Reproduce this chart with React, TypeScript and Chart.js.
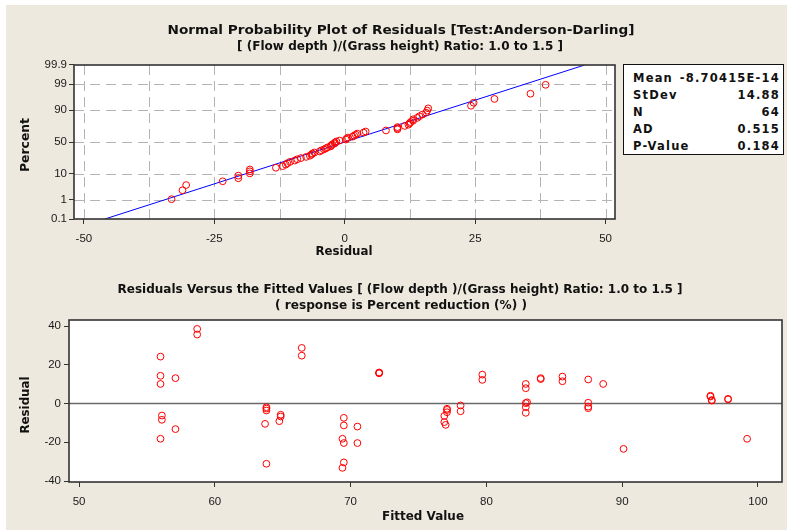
import React, { useEffect, useRef } from "react";
import { Chart, registerables } from "chart.js";

Chart.register(...registerables);

// ---------------- data ----------------
const FITTED = [
  56.0, 56.0, 56.0, 57.1, 58.7, 58.7, 56.1, 56.1, 56.0, 57.1,
  63.8, 63.8, 63.7, 63.8, 64.85, 64.85, 64.75, 66.4, 66.4,
  69.5, 69.5, 69.4, 69.5, 69.5, 69.4, 70.5, 70.5, 72.1, 72.1,
  79.7, 79.7, 77.1, 77.1, 77.1, 76.9, 76.9, 77.0, 78.1, 78.1,
  82.9, 82.9, 82.9, 82.9, 82.9, 84.0, 84.0, 85.6, 85.6, 87.5, 87.5, 87.5, 87.5, 88.6, 90.1,
  96.5, 96.5, 96.6, 97.8, 97.8, 99.2,
  63.8, 72.1, 83.0, 96.6,
];

const RESIDUALS = [
  24.2, 14.3, 10.1, 13.1, 38.5, 35.6, -6.2, -8.4, -18.2, -13.2,
  -1.9, -3.6, -10.5, -31.1, -5.8, -6.7, -9.1, 28.7, 24.7,
  -7.4, -11.3, -18.2, -20.4, -30.4, -33.2, -11.9, -20.4, 15.8, 16.0,
  14.9, 12.2, -2.7, -3.3, -4.5, -6.4, -9.6, -11.0, -1.0, -4.0,
  10.1, 7.9, 0.2, -1.9, -4.8, 13.1, 12.6, 13.9, 11.5, 12.4, 0.4, -1.6, -2.4, 10.1, -23.4,
  4.0, 3.6, 1.5, 2.4, 2.1, -18.2,
  -2.6, 15.6, 0.6, 1.8,
];

// percent (plotting position) of each ordered residual
const PLOT_PERCENT = [
  1.087, 2.640, 4.193, 5.745, 7.298, 8.851, 10.404, 11.957, 13.509, 15.062,
  16.615, 18.168, 19.720, 21.273, 22.826, 24.379, 25.932, 27.484, 29.037, 30.590,
  32.143, 33.696, 35.248, 36.801, 38.354, 39.907, 41.460, 43.012, 44.565, 46.118,
  47.671, 49.224, 50.776, 52.329, 53.882, 55.435, 56.988, 58.540, 60.093, 61.646,
  63.199, 64.752, 66.304, 67.857, 69.410, 70.963, 72.516, 74.068, 75.621, 77.174,
  78.727, 80.280, 81.832, 83.385, 84.938, 86.491, 88.043, 89.596, 91.149, 92.702,
  94.255, 95.807, 97.360, 98.913,
];

const FIT_LINE_RESIDUAL = [-45.98, 45.98];
const FIT_LINE_PERCENT = [0.1, 99.9];

const PERCENT_TICKS = [0.1, 1, 10, 50, 90, 99, 99.9];
const PERCENT_TICK_LABELS = ["0.1", "1", "10", "50", "90", "99", "99.9"];
const RESID_X_TICKS = [-50, -25, 0, 25, 50];
const RESID_X_GRID = [-50, -37.5, -25, -12.5, 0, 12.5, 25, 37.5, 50];
const FITTED_TICKS = [50, 60, 70, 80, 90, 100];
const RESID_Y_TICKS = [-40, -20, 0, 20, 40];

const STATS_LABELS = ["Mean", "StDev", "N", "AD", "P-Value"];
const STATS_VALUES = ["-8.70415E-14", "14.88", "64", "0.515", "0.184"];

const TOP_TITLE_1 = "Normal Probability Plot of Residuals [Test:Anderson-Darling]";
const TOP_TITLE_2 = "[ (Flow depth )/(Grass height) Ratio: 1.0 to 1.5 ]";
const BOT_TITLE_1 = "Residuals Versus the Fitted Values [ (Flow depth )/(Grass height) Ratio: 1.0 to 1.5 ]";
const BOT_TITLE_2 = "( response is Percent reduction (%) )";

// ---------------- helpers ----------------
function probit(p: number): number {
  const a = [-39.69683028665376, 220.9460984245205, -275.9285104469687, 138.357751867269, -30.66479806614716, 2.506628277459239];
  const b = [-54.47609879822406, 161.5858368580409, -155.6989798598866, 66.80131188771972, -13.28068155288572];
  const c = [-0.007784894002430293, -0.3223964580411365, -2.400758277161838, -2.549732539343734, 4.374664141464968, 2.938163982698783];
  const d = [0.007784695709041462, 0.3224671290700398, 2.445134137142996, 3.754408661907416];
  const plow = 0.02425;
  if (p < plow) {
    const q = Math.sqrt(-2 * Math.log(p));
    return (((((c[0] * q + c[1]) * q + c[2]) * q + c[3]) * q + c[4]) * q + c[5]) / ((((d[0] * q + d[1]) * q + d[2]) * q + d[3]) * q + 1);
  }
  if (p > 1 - plow) {
    const q = Math.sqrt(-2 * Math.log(1 - p));
    return -(((((c[0] * q + c[1]) * q + c[2]) * q + c[3]) * q + c[4]) * q + c[5]) / ((((d[0] * q + d[1]) * q + d[2]) * q + d[3]) * q + 1);
  }
  const q = p - 0.5;
  const r = q * q;
  return ((((((a[0] * r + a[1]) * r + a[2]) * r + a[3]) * r + a[4]) * r + a[5]) * q) / (((((b[0] * r + b[1]) * r + b[2]) * r + b[3]) * r + b[4]) * r + 1);
}

function fitText(ctx: CanvasRenderingContext2D, text: string, cx: number, cy: number, width: number, font: string, rotate = false) {
  ctx.save();
  ctx.font = font;
  ctx.fillStyle = "#111111";
  ctx.textAlign = "center";
  ctx.textBaseline = "middle";
  const w = ctx.measureText(text).width || 1;
  ctx.translate(cx, cy);
  if (rotate) ctx.rotate(-Math.PI / 2);
  ctx.scale(width / w, 1);
  ctx.fillText(text, 0, 0);
  ctx.restore();
}

const TICK_FONT = { family: "'Liberation Sans', Arial, sans-serif", size: 11.5 };
const BOLD = "bold 12px 'DejaVu Sans', sans-serif";
const BOLD_S = "bold 11.5px 'DejaVu Sans', sans-serif";

function whiteArea(chart: any) {
  const { ctx, chartArea: a } = chart;
  ctx.save();
  ctx.fillStyle = "#ffffff";
  ctx.fillRect(a.left, a.top, a.right - a.left, a.bottom - a.top);
  ctx.restore();
}

function frame(chart: any) {
  const { ctx, chartArea: a } = chart;
  ctx.save();
  ctx.strokeStyle = "#333333";
  ctx.lineWidth = 1.6;
  ctx.strokeRect(a.left, a.top, a.right - a.left, a.bottom - a.top);
  ctx.restore();
}

const topDecor = {
  id: "topDecor",
  beforeDraw(chart: any) {
    whiteArea(chart);
  },
  beforeDatasetsDraw(chart: any) {
    const { ctx, chartArea: a, scales } = chart;
    ctx.save();
    ctx.strokeStyle = "#b4b4b4";
    ctx.lineWidth = 1;
    ctx.setLineDash([10, 6]);
    RESID_X_GRID.forEach((v) => {
      const x = Math.round(scales.x.getPixelForValue(v)) + 0.5;
      ctx.beginPath();
      ctx.moveTo(x, a.top);
      ctx.lineTo(x, a.bottom);
      ctx.stroke();
    });
    PERCENT_TICKS.slice(1, -1).forEach((p) => {
      const y = Math.round(scales.y.getPixelForValue(probit(p / 100))) + 0.5;
      ctx.beginPath();
      ctx.moveTo(a.left, y);
      ctx.lineTo(a.right, y);
      ctx.stroke();
    });
    ctx.restore();
  },
  afterDatasetsDraw(chart: any) {
    frame(chart);
  },
  afterDraw(chart: any) {
    const ctx = chart.ctx;
    fitText(ctx, TOP_TITLE_1, 401, 31, 467, "bold 12.5px 'DejaVu Sans', sans-serif");
    fitText(ctx, TOP_TITLE_2, 400, 47, 326, BOLD_S);
    fitText(ctx, "Residual", 344, 252, 57, BOLD);
    fitText(ctx, "Percent", 26, 145, 54, BOLD, true);
  },
};

const botDecor = {
  id: "botDecor",
  beforeDraw(chart: any) {
    whiteArea(chart);
  },
  beforeDatasetsDraw(chart: any) {
    const { ctx, chartArea: a, scales } = chart;
    const y0 = scales.y.getPixelForValue(0);
    ctx.save();
    ctx.strokeStyle = "#6a6a6a";
    ctx.lineWidth = 1.5;
    ctx.beginPath();
    ctx.moveTo(a.left, y0);
    ctx.lineTo(a.right, y0);
    ctx.stroke();
    ctx.restore();
  },
  afterDatasetsDraw(chart: any) {
    frame(chart);
  },
  afterDraw(chart: any) {
    const ctx = chart.ctx;
    fitText(ctx, BOT_TITLE_1, 400, 28, 565, BOLD_S);
    fitText(ctx, BOT_TITLE_2, 401, 44, 252, BOLD_S);
    fitText(ctx, "Residual", 26, 143, 57, BOLD, true);
    fitText(ctx, "Fitted Value", 423, 255, 82, BOLD);
  },
};

const pointStyle = {
  showLine: false,
  pointRadius: 3.4,
  pointBorderWidth: 1,
  pointBorderColor: "#ff0000",
  pointBackgroundColor: "rgba(0,0,0,0)",
  borderColor: "#ff0000",
  backgroundColor: "rgba(0,0,0,0)",
};

function axisCommon(ticks: number[], padding: number, extra: any = {}) {
  return {
    type: "linear",
    afterBuildTicks: (s: any) => {
      s.ticks = ticks.map((v) => ({ value: v }));
    },
    grid: { drawOnChartArea: false, drawTicks: true, tickLength: 5, tickColor: "#333333", tickWidth: 1 },
    border: { display: false },
    ticks: { font: TICK_FONT, color: "#1a1a1a", padding, autoSkip: false, maxRotation: 0, ...extra },
  };
}

export default function App() {
  const topRef = useRef<HTMLCanvasElement>(null);
  const botRef = useRef<HTMLCanvasElement>(null);

  useEffect(() => {
    const sorted = [...RESIDUALS].sort((p, q) => p - q);
    const probPoints = sorted.map((r, i) => ({ x: r, y: probit(PLOT_PERCENT[i] / 100) }));
    const linePoints = FIT_LINE_RESIDUAL.map((r, i) => ({ x: r, y: probit(FIT_LINE_PERCENT[i] / 100) }));

    const top = new Chart(topRef.current as HTMLCanvasElement, {
      type: "scatter",
      data: {
        datasets: [
          { data: probPoints, ...pointStyle } as any,
          { data: linePoints, showLine: true, borderColor: "#0000ff", borderWidth: 1, pointRadius: 0, fill: false } as any,
        ],
      },
      options: {
        responsive: false,
        animation: false,
        devicePixelRatio: 1,
        layout: { padding: { left: 0, top: 65, right: 172, bottom: 0 } },
        plugins: { legend: { display: false }, tooltip: { enabled: false }, title: { display: false } },
        scales: {
          x: {
            ...axisCommon(RESID_X_TICKS, 8),
            min: -51.9,
            max: 51.8,
            afterFit: (s: any) => {
              s.height = 43;
            },
          },
          y: {
            ...axisCommon(PERCENT_TICKS.map((p) => probit(p / 100)), 2, {
              callback: (_v: any, i: number) => PERCENT_TICK_LABELS[i],
            }),
            min: probit(0.001),
            max: probit(0.999),
            afterFit: (s: any) => {
              s.width = 74;
            },
          },
        } as any,
      },
      plugins: [topDecor],
    });

    const botPoints = FITTED.map((f, i) => ({ x: f, y: RESIDUALS[i] }));
    const bot = new Chart(botRef.current as HTMLCanvasElement, {
      type: "scatter",
      data: { datasets: [{ data: botPoints, ...pointStyle } as any] },
      options: {
        responsive: false,
        animation: false,
        devicePixelRatio: 1,
        layout: { padding: { left: 0, top: 58, right: 5, bottom: 0 } },
        plugins: { legend: { display: false }, tooltip: { enabled: false }, title: { display: false } },
        scales: {
          x: {
            ...axisCommon(FITTED_TICKS, 8),
            min: 49.26,
            max: 101.77,
            afterFit: (s: any) => {
              s.height = 48;
            },
          },
          y: {
            ...axisCommon(RESID_Y_TICKS, 3),
            min: -40.5,
            max: 43.1,
            afterFit: (s: any) => {
              s.width = 69;
            },
          },
        } as any,
      },
      plugins: [botDecor],
    });

    return () => {
      top.destroy();
      bot.destroy();
    };
  }, []);

  const statFont = "bold 11.5px 'DejaVu Sans', sans-serif";

  return (
    <div style={{ position: "absolute", left: 0, top: 0, width: 787, height: 530, background: "#ffffff", overflow: "hidden" }}>
      <div style={{ position: "absolute", left: 6, top: 5, right: 0, bottom: 0, background: "#EDE9DE" }} />
      <canvas ref={topRef} width={787} height={262} style={{ position: "absolute", left: 0, top: 0 }} />
      <canvas ref={botRef} width={787} height={268} style={{ position: "absolute", left: 0, top: 262 }} />
      <div
        style={{
          position: "absolute",
          left: 623,
          top: 64,
          width: 161,
          height: 91,
          boxSizing: "border-box",
          border: "1px solid #111",
          background: "#ffffff",
          font: statFont,
          color: "#111",
        }}
      >
        {STATS_LABELS.map((lab, i) => (
          <div
            key={lab}
            style={{
              position: "absolute",
              left: 9,
              right: 4,
              top: 5 + i * 17,
              height: 17,
              lineHeight: "17px",
              display: "flex",
              justifyContent: "space-between",
              letterSpacing: "1.2px",
              whiteSpace: "nowrap",
            }}
          >
            <span>{lab}</span>
            <span style={{ marginRight: -1 }}>{STATS_VALUES[i]}</span>
          </div>
        ))}
      </div>
    </div>
  );
}
